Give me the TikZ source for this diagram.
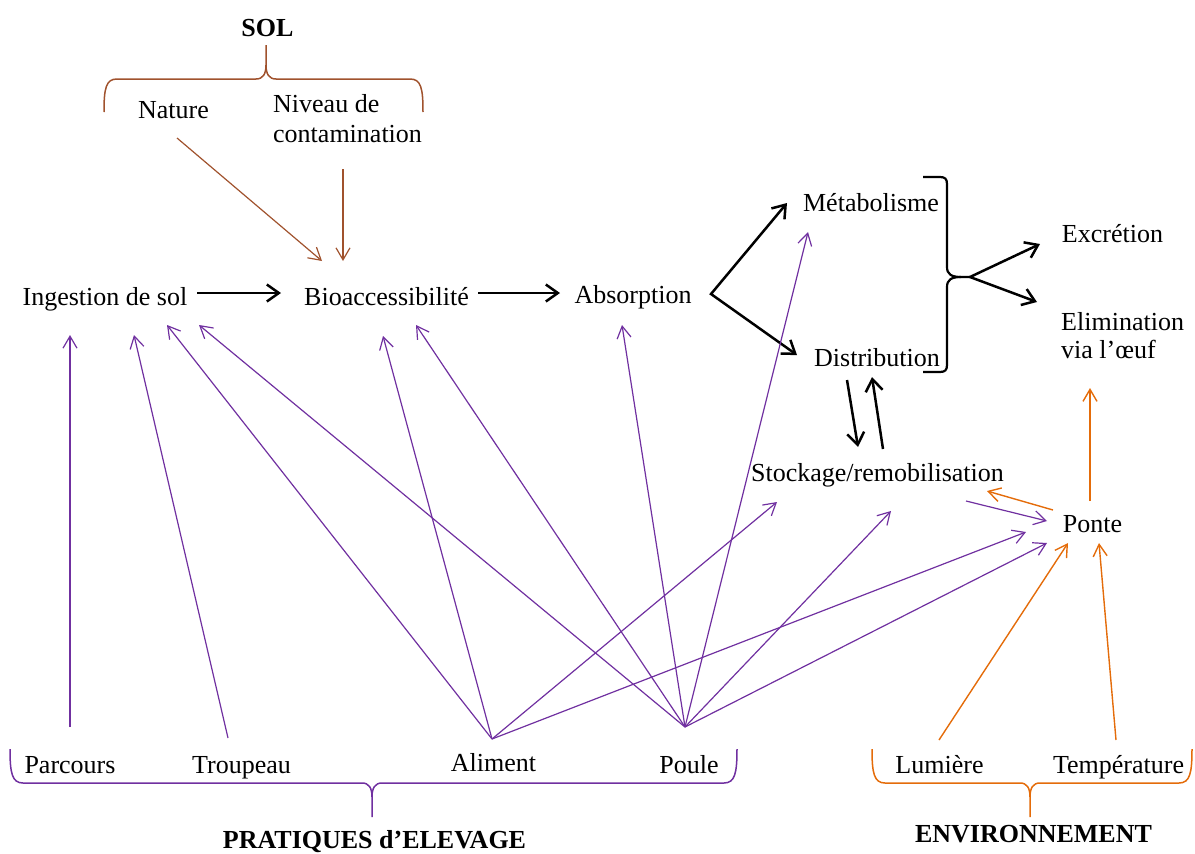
\documentclass[tikz,border=0pt]{standalone}
\usepackage{fontspec}
\setmainfont{Liberation Serif}
\usetikzlibrary{arrows.meta}
\definecolor{vio}{HTML}{7030A0}
\definecolor{brn}{HTML}{A0522D}
\definecolor{org}{HTML}{E46C0A}
\begin{document}
\begin{tikzpicture}[x=1pt,y=-1pt,
  lbl/.style={inner sep=0pt, font=\fontsize{26}{30}\selectfont, anchor=base},
  hd/.style={lbl, font=\fontsize{26}{30}\selectfont\bfseries},
  parr/.style={vio, line width=1.2pt, -{Straight Barb[length=12pt,width=14pt]}},
  btip/.tip={Straight Barb[length=12pt,width=17pt]},
  barr/.style={black, line width=2.5pt, -btip},
  brarr/.style={brn, line width=1.2pt, -{Straight Barb[length=12pt,width=14pt]}},
  oarr/.style={org, line width=1.4pt, -{Straight Barb[length=12pt,width=14pt]}},
  brace/.style={line width=1.5pt}
]
\useasboundingbox (0,0) rectangle (1195,854);

% text nodes
\node[hd] (sol) at (267.5,36) {SOL};
\node[lbl] (nat) at (173.5,118) {Nature};
\node[lbl,anchor=base west] (niv1) at (273,112) {Niveau de};
\node[lbl,anchor=base west] (niv2) at (273,142) {contamination};
\node[lbl] (ing) at (105,305) {Ingestion de sol};
\node[lbl] (bio) at (386.5,305) {Bioaccessibilité};
\node[lbl] (abs) at (633,303) {Absorption};
\node[lbl] (met) at (871,211) {Métabolisme};
\node[lbl] (dis) at (877,366) {Distribution};
\node[lbl] (exc) at (1112.5,242) {Excrétion};
\node[lbl,anchor=base west] (eli1) at (1061,330) {Elimination};
\node[lbl,anchor=base west] (eli2) at (1061,358) {via l’œuf};
\node[lbl] (sto) at (877.5,481) {Stockage/remobilisation};
\node[lbl] (pon) at (1092.5,532) {Ponte};
\node[lbl] (lum) at (939.5,773) {Lumière};
\node[lbl] (tem) at (1118.5,773) {Température};
\node[hd] (env) at (1033.5,842) {ENVIRONNEMENT};
\node[lbl] (par) at (70,773) {Parcours};
\node[lbl] (tro) at (241.5,773) {Troupeau};
\node[lbl] (ali) at (493.5,771) {Aliment};
\node[lbl] (pou) at (689,773) {Poule};
\node[hd] (pra) at (374.5,848) {PRATIQUES d’ELEVAGE};

% connector end points
\coordinate (natS) at (177,138);
\coordinate (bioT1) at (322,261);
\coordinate (nivS) at (343,169);
\coordinate (bioT2) at (343,261);
\coordinate (ingE) at (197,293);
\coordinate (bioW) at (281,293);
\coordinate (bioE) at (478,293);
\coordinate (absW) at (560,293);
\coordinate (absV) at (711,294);
\coordinate (metT) at (787,203);
\coordinate (disT) at (797,355);
\coordinate (disS) at (847,380);
\coordinate (stoT) at (858,447);
\coordinate (stoS) at (883,449);
\coordinate (disT2) at (872,377);
\coordinate (brk) at (970,277);
\coordinate (excT) at (1040,244);
\coordinate (eliT) at (1037,302);
\coordinate (parS) at (70,727);
\coordinate (ingT1) at (70,335);
\coordinate (troS) at (228,738);
\coordinate (ingT2) at (134,335);
\coordinate (aliS) at (492,739);
\coordinate (ingT3) at (167,325);
\coordinate (bioT3) at (383,336);
\coordinate (stoT1) at (777,502);
\coordinate (ponT1) at (1026,532);
\coordinate (pouS) at (685,727);
\coordinate (ingT4) at (199,325);
\coordinate (bioT4) at (416,325);
\coordinate (absT) at (622,325);
\coordinate (metT2) at (808,232);
\coordinate (stoT2) at (891,511);
\coordinate (ponT2) at (1047,543);
\coordinate (stoS2) at (966,501);
\coordinate (ponT3) at (1047,521);
\coordinate (ponS1) at (1053,510);
\coordinate (stoT3) at (987,491);
\coordinate (ponS2) at (1090,501);
\coordinate (eliT2) at (1090,388);
\coordinate (lumS) at (939,740);
\coordinate (ponT4) at (1068,543);
\coordinate (temS) at (1116,740);
\coordinate (ponT5) at (1099,543);

% brown arrows
\draw[brarr] (natS) -- (bioT1);
\draw[brarr] (nivS) -- (bioT2);

% black arrows
\draw[barr] (ingE) -- (bioW);
\draw[barr] (bioE) -- (absW);
\draw[barr, btip-btip] (metT) -- (absV) -- (disT);
\draw[barr] (disS) -- (stoT);
\draw[barr] (stoS) -- (disT2);
\draw[barr, btip-btip] (excT) -- (brk) -- (eliT);

% purple arrows
\draw[parr] (parS) -- (ingT1);
\draw[parr] (troS) -- (ingT2);
\draw[parr] (aliS) -- (ingT3);
\draw[parr] (aliS) -- (bioT3);
\draw[parr] (aliS) -- (stoT1);
\draw[parr] (aliS) -- (ponT1);
\draw[parr] (pouS) -- (ingT4);
\draw[parr] (pouS) -- (bioT4);
\draw[parr] (pouS) -- (absT);
\draw[parr] (pouS) -- (metT2);
\draw[parr] (pouS) -- (stoT2);
\draw[parr] (pouS) -- (ponT2);
\draw[parr] (stoS2) -- (ponT3);

% orange arrows
\draw[oarr] (ponS1) -- (stoT3);
\draw[oarr] (ponS2) -- (eliT2);
\draw[oarr] (lumS) -- (ponT4);
\draw[oarr] (temS) -- (ponT5);

% braces
\draw[brace, brn] (104,112) .. controls (104,88) and (106,79) .. (117,79) -- (256,79) .. controls (263,79) and (266,74) .. (266,65) -- (266,45);
\draw[brace, brn] (423,112) .. controls (423,88) and (421,79) .. (410,79) -- (276,79) .. controls (269,79) and (266,74) .. (266,65);

\draw[brace, vio] (10,749) .. controls (10,773) and (12,783) .. (23,783) -- (362,783) .. controls (369,783) and (372,788) .. (372,797) -- (372,817);
\draw[brace, vio] (737,749) .. controls (737,773) and (735,783) .. (724,783) -- (382,783) .. controls (375,783) and (372,788) .. (372,797);

\draw[brace, org] (872,749) .. controls (872,773) and (874,783) .. (885,783) -- (1020,783) .. controls (1027,783) and (1030,788) .. (1030,797) -- (1030,817);
\draw[brace, org] (1192,749) .. controls (1192,773) and (1190,783) .. (1179,783) -- (1040,783) .. controls (1033,783) and (1030,788) .. (1030,797);

\draw[line width=2.2pt] (923,177) -- (940,177) .. controls (945,177) and (947,179) .. (947,184) -- (947,267) .. controls (947,274) and (951,277) .. (961,277) -- (970,277);
\draw[line width=2.2pt] (923,372) -- (940,372) .. controls (945,372) and (947,370) .. (947,365) -- (947,287) .. controls (947,280) and (951,277) .. (961,277);
\end{tikzpicture}
\end{document}
